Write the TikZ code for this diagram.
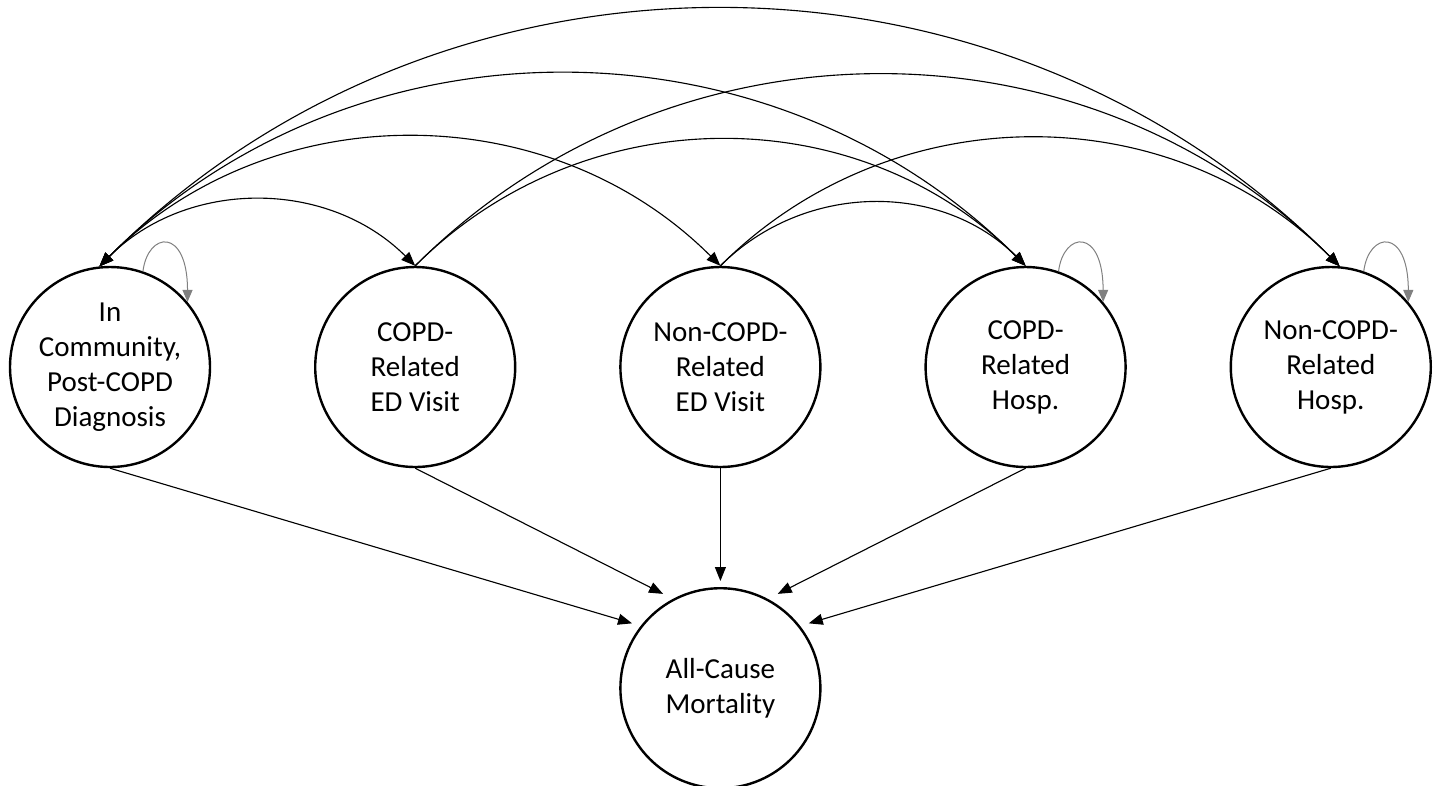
\documentclass[tikz,border=0pt]{standalone}
\usepackage{fontspec}
\setmainfont{Carlito}
\usetikzlibrary{positioning,arrows.meta}

\begin{document}
\begin{tikzpicture}[x=0.25pt,y=0.25pt,
  state/.style={draw,circle,line width=0.6pt,minimum size=50pt,inner sep=0pt,align=center,font=\fontsize{7.25}{8.75}\selectfont},
  oneway/.style={line width=0.28pt,-{Triangle[length=3.5pt,width=2.75pt]}},
  twoway/.style={line width=0.28pt,{Triangle[length=3.5pt,width=2.75pt]}-{Triangle[length=3.5pt,width=2.75pt]}},
  selfloop/.style={gray,line width=0.25pt,-{Triangle[length=3pt,width=2.5pt]}},
  node distance=25.7pt]
\pgfmathsetmacro{\bendang}{45}
\useasboundingbox (0,0) rectangle (1437,-785);
\node[state] (comm) at (110,-367) {In\\Community,\\Post-COPD\\Diagnosis};
\node[state,right=of comm] (copded) {COPD-\\Related\\ED Visit};
\node[state,right=of copded] (ncopded) {Non-COPD-\\Related\\ED Visit};
\node[state,right=of ncopded] (copdhosp) {COPD-\\Related\\Hosp.};
\node[state,right=of copdhosp] (ncopdhosp) {Non-COPD-\\Related\\Hosp.};
\node[state,below=29.7pt of ncopded] (mort) {All-Cause\\Mortality};
\draw[twoway] (comm.96) to[bend left=\bendang] (copded.north);
\draw[twoway] (comm.96) to[bend left=\bendang] (ncopded.north);
\draw[twoway] (comm.96) to[bend left=\bendang] (copdhosp.north);
\draw[twoway] (comm.96) to[bend left=\bendang] (ncopdhosp.85);
\draw[oneway] (copded.north) to[bend left=\bendang] (copdhosp.north);
\draw[oneway] (copded.north) to[bend left=\bendang] (ncopdhosp.85);
\draw[oneway] (ncopded.north) to[bend left=\bendang] (copdhosp.north);
\draw[oneway] (ncopded.north) to[bend left=\bendang] (ncopdhosp.85);
\draw[selfloop] (comm.71) .. controls +(5,40) and +(0,75) .. (comm.40);
\draw[selfloop] (copdhosp.71) .. controls +(5,40) and +(0,75) .. (copdhosp.40);
\draw[selfloop] (ncopdhosp.71) .. controls +(5,40) and +(0,75) .. (ncopdhosp.40);
\draw[oneway,shorten >=2.25pt] (comm.south) -- (mort.142);
\draw[oneway,shorten >=2.75pt] (copded.south) -- (mort.118);
\draw[oneway,shorten >=1.5pt] (ncopded.south) -- (mort.north);
\draw[oneway,shorten >=2.75pt] (copdhosp.south) -- (mort.62);
\draw[oneway,shorten >=2.25pt] (ncopdhosp.south) -- (mort.38);
\end{tikzpicture}
\end{document}
